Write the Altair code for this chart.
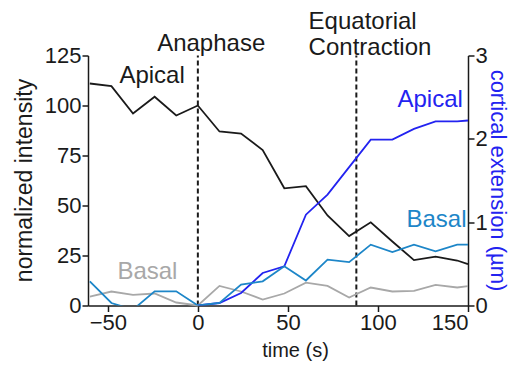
import altair as alt
import pandas as pd

# ---- data ----
times = [-60, -48, -36, -24, -12, 0, 12, 24, 36, 48, 60, 72, 84, 96, 108, 120, 132, 144, 150]
apical_intensity = [111, 109.7, 96, 104.4, 95, 100, 87, 86, 77.7, 58.6, 59.7, 45, 34.7, 41.6, 32, 22.7, 24.4, 22.5, 20.7]
basal_intensity = [4.4, 7, 5.3, 6, 1.5, 0, 9.8, 7, 3, 6, 11.4, 9.8, 4, 9, 7, 7.3, 10.3, 9, 9.7]

ext_times = [0, 12, 24, 36, 48, 60, 72, 84, 96, 108, 120, 132, 144, 150]
apical_extension = [0, 0.03, 0.15, 0.39, 0.47, 1.09, 1.33, 1.66, 1.99, 1.99, 2.12, 2.21, 2.21, 2.22]
basal_extension = [0.29, 0.03, -0.05, 0.17, 0.17, 0, 0.03, 0.25, 0.29, 0.47, 0.3, 0.55, 0.52, 0.73, 0.64, 0.73, 0.65, 0.73, 0.73]

event_times = [0, 88]
x_ticks = [-50, 0, 50, 100, 150]
left_ticks = [0, 25, 50, 75, 100, 125]
right_ticks = [0, 1, 2, 3]

series_colors = {"apical_int": "#1a1a1a", "basal_int": "#a8a8a8",
                 "apical_ext": "#2323f0", "basal_ext": "#1d86c8"}

labels_center = [
    {"t": -25.4, "v": 115, "text": "Apical", "c": "#1a1a1a"},
    {"t": -28, "v": 16.8, "text": "Basal", "c": "#a8a8a8"},
    {"t": 129, "v": 102.8, "text": "Apical", "c": "#2323f0"},
    {"t": 132.5, "v": 42.8, "text": "Basal", "c": "#1d86c8"},
    {"t": 7.4, "v": 131, "text": "Anaphase", "c": "#1a1a1a"},
]
labels_left = [
    {"t": 61.5, "v": 141.8, "text": "Equatorial"},
    {"t": 61.5, "v": 128.6, "text": "Contraction"},
]

FONT = "Liberation Sans"

# ---- tables ----
int_df = pd.DataFrame({
    "t": times * 2,
    "v": apical_intensity + basal_intensity,
    "s": ["apical_int"] * len(times) + ["basal_int"] * len(times),
})
ext_df = pd.DataFrame({
    "t": ext_times + times,
    "e": apical_extension + basal_extension,
    "s": ["apical_ext"] * len(ext_times) + ["basal_ext"] * len(times),
})
ev_df = pd.DataFrame({"t": event_times, "v0": [0] * len(event_times), "v1": [125] * len(event_times)})
lc_df = pd.DataFrame(labels_center)
ll_df = pd.DataFrame(labels_left)

x_scale = alt.Scale(domain=[-61, 150], nice=False, zero=False)
x_axis = alt.Axis(values=x_ticks, title="time (s)", titleX=207, titleY=44.5,
                  titleBaseline="middle", titleFontSize=20, labelPadding=1)
left_scale = alt.Scale(domain=[0, 125], nice=False)
left_axis = alt.Axis(values=left_ticks, title="normalized intensity", titleX=-64, titleY=124.5,
                     titleBaseline="middle", titleAngle=-90, titleFontSize=23, labelPadding=1)
right_scale = alt.Scale(domain=[0, 3], nice=False)
right_axis = alt.Axis(values=right_ticks, orient="right", title="cortical extension (µm)",
                      titleX=29, titleY=124.5, titleBaseline="middle", titleAngle=90,
                      titleFontSize=22, titleColor="#2323f0", labelPadding=1)

color_scale = alt.Scale(domain=list(series_colors.keys()), range=list(series_colors.values()))

X = alt.X("t:Q", scale=x_scale, axis=x_axis)

int_lines = alt.Chart(int_df).mark_line(strokeWidth=1.8).encode(
    x=X,
    y=alt.Y("v:Q", scale=left_scale, axis=left_axis),
    color=alt.Color("s:N", scale=color_scale, legend=None),
    detail="s:N",
)
rules = alt.Chart(ev_df).mark_rule(strokeDash=[5, 3], strokeWidth=2, color="#1a1a1a").encode(
    x=X,
    y=alt.Y("v0:Q", scale=left_scale, axis=left_axis),
    y2="v1:Q",
)
text_c = alt.Chart(lc_df).mark_text(font=FONT, fontSize=24, align="center", baseline="middle").encode(
    x=X,
    y=alt.Y("v:Q", scale=left_scale, axis=left_axis),
    text="text:N",
    color=alt.Color("c:N", scale=None),
)
text_l = alt.Chart(ll_df).mark_text(font=FONT, fontSize=24, align="left", baseline="middle",
                                     color="#1a1a1a").encode(
    x=X,
    y=alt.Y("v:Q", scale=left_scale, axis=left_axis),
    text="text:N",
)
left = alt.layer(rules, int_lines, text_c, text_l)

ext_lines = alt.Chart(ext_df).mark_line(strokeWidth=1.8, clip=True).encode(
    x=X,
    y=alt.Y("e:Q", scale=right_scale, axis=right_axis),
    color=alt.Color("s:N", scale=color_scale, legend=None),
    detail="s:N",
)

chart = alt.layer(left, ext_lines).resolve_scale(y="independent").properties(
    width=380, height=250, autosize="none",
    padding={"left": 80, "top": 47.5, "right": 42, "bottom": 55.5},
).configure_view(stroke=None).configure_axis(
    grid=False, domainColor="#1a1a1a", domainWidth=1.5, tickColor="#1a1a1a", tickWidth=1.5,
    tickSize=6, labelFont=FONT, labelFontSize=22, labelColor="#1a1a1a",
    titleFont=FONT, titleFontWeight="normal", titleColor="#1a1a1a",
)

chart.save("out.html", embed_options={"renderer": "svg", "actions": False})
